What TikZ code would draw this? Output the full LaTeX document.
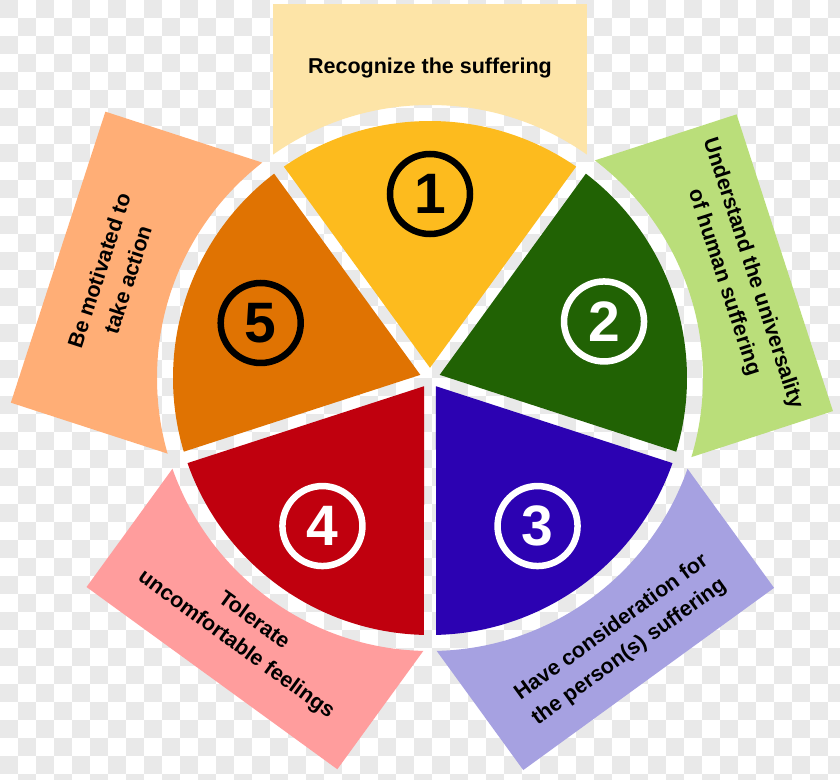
\documentclass[tikz,border=0pt]{standalone}
\usepackage{fontspec}
\setmainfont{Liberation Sans}
\usepackage{tikz}
\usetikzlibrary{positioning}
\definecolor{secYellow}{RGB}{253,187,30}
\definecolor{secGreen}{RGB}{33,98,4}
\definecolor{secBlue}{RGB}{44,2,178}
\definecolor{secRed}{RGB}{192,0,14}
\definecolor{secOrange}{RGB}{224,115,2}
\definecolor{tabYellow}{RGB}{253,228,167}
\definecolor{tabGreen}{RGB}{186,222,122}
\definecolor{tabBlue}{RGB}{166,161,225}
\definecolor{tabRed}{RGB}{255,157,157}
\definecolor{tabOrange}{RGB}{255,174,118}
\definecolor{boardGray}{RGB}{233,233,233}
\tikzset{
  board/.style={fill=boardGray, draw=none},
  tabtext/.style={font=\bfseries\fontsize{21.5}{30}\selectfont, align=center, inner sep=0pt, text=black},
  badge/.style={circle, draw=black, line width=6.5pt, minimum size=80pt, inner sep=0pt, text=black, font=\bfseries\fontsize{57}{57}\selectfont},
  badgeW/.style={badge, draw=white, text=white}
}
\begin{document}
\begin{tikzpicture}[x=1pt,y=1pt]
  \useasboundingbox (-430,-401) rectangle (410,378);
  % transparent background shown as a checkerboard
  \fill[white] (-430,-401) rectangle (410,378);
  \begin{scope}
    \clip (-430,-401) rectangle (410,378);
    \foreach \i in {0,...,46}{
      \foreach \j in {0,...,43}{
        \pgfmathparse{int(mod(\i+\j,2))}
        \ifnum\pgfmathresult=0
          \fill[board] (18*\i-430,378-18*\j) rectangle (18*\i-412,360-18*\j);
        \fi
      }
    }
  \end{scope}

  % tabs behind the wheel, cut by a ring
  \begin{scope}
    \clip (-600,-600) -- (-600,600) -- (600,600) -- (600,-600) -- cycle (0,0) circle (273);
    \fill[tabYellow, rotate=0]   (-156.5,0) rectangle (156.5,374);
    \fill[tabGreen,  rotate=-72] (-156,0) rectangle (156,373);
    \fill[tabBlue,   rotate=216] (-155,0) rectangle (155,372);
    \fill[tabRed,    rotate=144] (-155,0) rectangle (155,371);
    \fill[tabOrange, rotate=72]  (-153,0) rectangle (153,391);
  \end{scope}

  % wheel sectors
  \fill[secYellow] (90:10.2) -- (55.34:257) arc[start angle=55.34, end angle=124.66, radius=257] -- cycle;
  \fill[secGreen] (18:10.2) -- (-16.66:257) arc[start angle=-16.66, end angle=52.66, radius=257] -- cycle;
  \fill[secBlue] (306:10.2) -- (-88.66:257) arc[start angle=-88.66, end angle=-19.34, radius=257] -- cycle;
  \fill[secRed] (234:10.2) -- (199.34:257) arc[start angle=199.34, end angle=268.66, radius=257] -- cycle;
  \fill[secOrange] (162:10.2) -- (127.34:257) arc[start angle=127.34, end angle=196.66, radius=257] -- cycle;

  \node[badge] (numOne) at (90:184) {1};
  \node[badgeW] (numTwo) at (18:183) {2};
  \node[badgeW] (numThree) at (306:183) {3};
  \node[badgeW] (numFour) at (234:183) {4};
  \node[badge] (numFive) at (162:178) {5};

  \node[tabtext] (txtRecognize) at (90:310) {Recognize the suffering};
  \node[tabtext, rotate=-72] (txtUniversal) at (18:324) {Understand the universality\\of human suffering};
  \node[tabtext, rotate=36] (txtConsider) at (306:324) {Have consideration for\\the person(s) suffering};
  \node[tabtext, rotate=-36] (txtTolerate) at (234:315) {Tolerate\\uncomfortable feelings};
  \node[tabtext, rotate=72] (txtMotivate) at (162:333) {Be motivated to\\take action};
\end{tikzpicture}
\end{document}
